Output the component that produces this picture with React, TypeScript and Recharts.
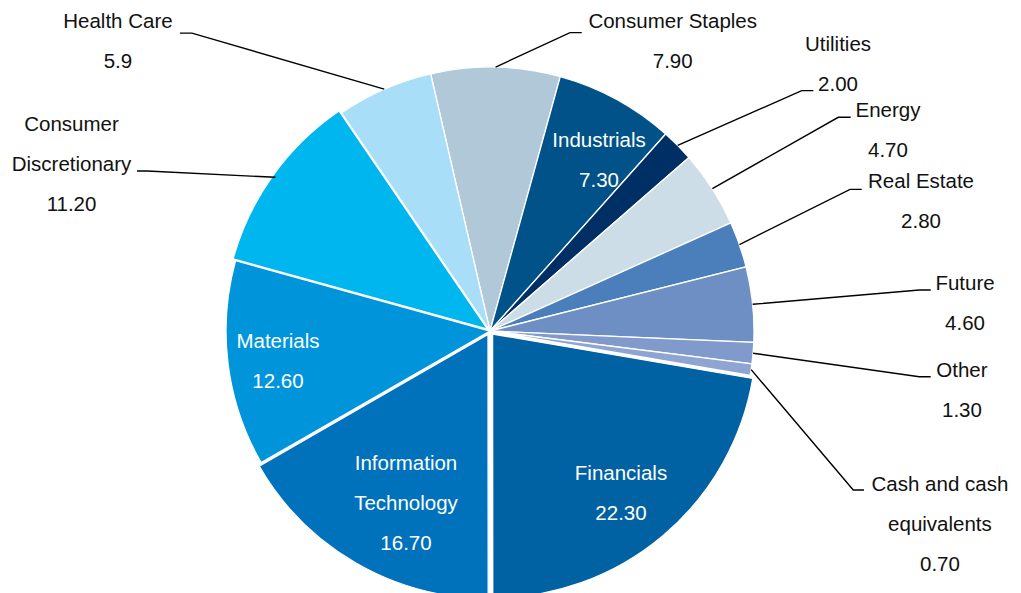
import React from 'react';
import { PieChart, Pie, Cell } from 'recharts';

const categories = [
  'Consumer Staples', 'Industrials', 'Utilities', 'Energy', 'Real Estate', 'Future', 'Other',
  'Cash and cash equivalents', 'Financials', 'Information Technology', 'Materials',
  'Consumer Discretionary', 'Health Care',
];
const weights = [7.9, 7.3, 2.0, 4.7, 2.8, 4.6, 1.3, 0.7, 22.3, 16.7, 12.6, 11.2, 5.9];
const valueLabels = ['7.90', '7.30', '2.00', '4.70', '2.80', '4.60', '1.30', '0.70', '22.30', '16.70', '12.60', '11.20', '5.9'];
const nameLines = [
  ['Consumer Staples'], ['Industrials'], ['Utilities'], ['Energy'], ['Real Estate'], ['Future'], ['Other'],
  ['Cash and cash', 'equivalents'], ['Financials'], ['Information', 'Technology'], ['Materials'],
  ['Consumer', 'Discretionary'], ['Health Care'],
];
const colors = [
  '#B0C8D8', '#005288', '#002F66', '#CCDDE8', '#4A7FBC', '#6D8FC3', '#7F9ACB',
  '#8EA5D4', '#0062A2', '#0072BB', '#0095DB', '#00B6EF', '#A9DEF9',
];
const explode = [0, 0, 0, 0, 0, 0, 0, 0, 4, 4, 0, 3, 0];

// label layout: inside -> offset of first line centre from pie centre
// outside -> elbow offset from arc midpoint, tail length, first line centre offset from tail end
const labelLayout: any[] = [
  { inside: false, ex: 74.4, ey: -34.4, tail: 11.7, tx: 91, ty: -12.2 },
  { inside: true, tx: 109, ty: -191 },
  { inside: false, ex: 124, ey: -54.7, tail: 11.6, tx: 24.7, ty: -46.7 },
  { inside: false, ex: 125.9, ey: -71.4, tail: 12.4, tx: 37.3, ty: -7.8 },
  { inside: false, ex: 110.6, ey: -55.2, tail: 11.7, tx: 59.3, ty: -8.3 },
  { inside: false, ex: 166.7, ey: -14.3, tail: 11.4, tx: 34.3, ty: -7 },
  { inside: false, ex: 166.2, ey: 23.5, tail: 11.4, tx: 31.3, ty: -6.7 },
  { inside: false, ex: 102.1, ey: 120.4, tail: 10.7, tx: 76, ty: -6.5 },
  { inside: true, tx: 131, ty: 142 },
  { inside: true, tx: -84, ty: 132 },
  { inside: true, tx: -212, ty: 10 },
  { inside: false, ex: -128.3, ey: -6.3, tail: -10, tx: -65.5, ty: -47 },
  { inside: false, ex: -192.3, ey: -56, tail: -12, tx: -62, ty: -12 },
];

const data = categories.map((name, i) => ({ name, value: weights[i] }));

const START = 103;
const RAD = Math.PI / 180;
const FS = 20.5;
const LINE_GAP = 40;
const FONT = '"Liberation Sans", Arial, sans-serif';

const renderLabel = (props: any) => {
  const { cx, cy, midAngle, outerRadius, index } = props;
  const lay = labelLayout[index];
  const lines = [...nameLines[index], valueLabels[index]];
  const fill = lay.inside ? '#FFFFFF' : '#111111';
  let tx: number;
  let ty: number;
  let line: React.ReactNode = null;
  if (lay.inside) {
    tx = cx + lay.tx;
    ty = cy + lay.ty;
  } else {
    const ax = cx + outerRadius * Math.cos(-midAngle * RAD);
    const ay = cy + outerRadius * Math.sin(-midAngle * RAD);
    const exx = ax + lay.ex;
    const eyy = ay + lay.ey;
    const hx = exx + lay.tail;
    tx = hx + lay.tx;
    ty = eyy + lay.ty;
    line = (
      <polyline
        points={`${ax},${ay} ${exx},${eyy} ${hx},${eyy}`}
        fill="none"
        stroke="#000000"
        strokeWidth={1.4}
      />
    );
  }
  return (
    <g key={`lbl-${index}`}>
      {line}
      {lines.map((t, j) => (
        <text
          key={j}
          x={tx}
          y={ty + j * LINE_GAP + FS * 0.358}
          textAnchor="middle"
          fill={fill}
          fontSize={FS}
          fontFamily={FONT}
        >
          {t}
        </text>
      ))}
    </g>
  );
};

export default function App() {
  const total = weights.reduce((a, b) => a + b, 0);
  let cum = 0;
  const transforms = weights.map((w, i) => {
    const mid = START - ((cum + w / 2) / total) * 360;
    cum += w;
    const d = explode[i];
    return d ? `translate(${(d * Math.cos(mid * RAD)).toFixed(2)}, ${(-d * Math.sin(mid * RAD)).toFixed(2)})` : undefined;
  });
  return (
    <div style={{ position: 'absolute', left: 0, top: 0, width: 1021, height: 593, background: '#fff' }}>
      <PieChart width={1021} height={593} margin={{ top: 0, right: 0, bottom: 0, left: 0 }}>
        <Pie
          data={data}
          dataKey="value"
          nameKey="name"
          cx={490}
          cy={331}
          outerRadius={264}
          innerRadius={0}
          startAngle={START}
          endAngle={START - 360}
          stroke="#FFFFFF"
          strokeWidth={1.3}
          isAnimationActive={false}
          label={renderLabel}
          labelLine={false}
        >
          {data.map((d, i) => (
            <Cell key={d.name} fill={colors[i]} transform={transforms[i]} />
          ))}
        </Pie>
      </PieChart>
    </div>
  );
}
